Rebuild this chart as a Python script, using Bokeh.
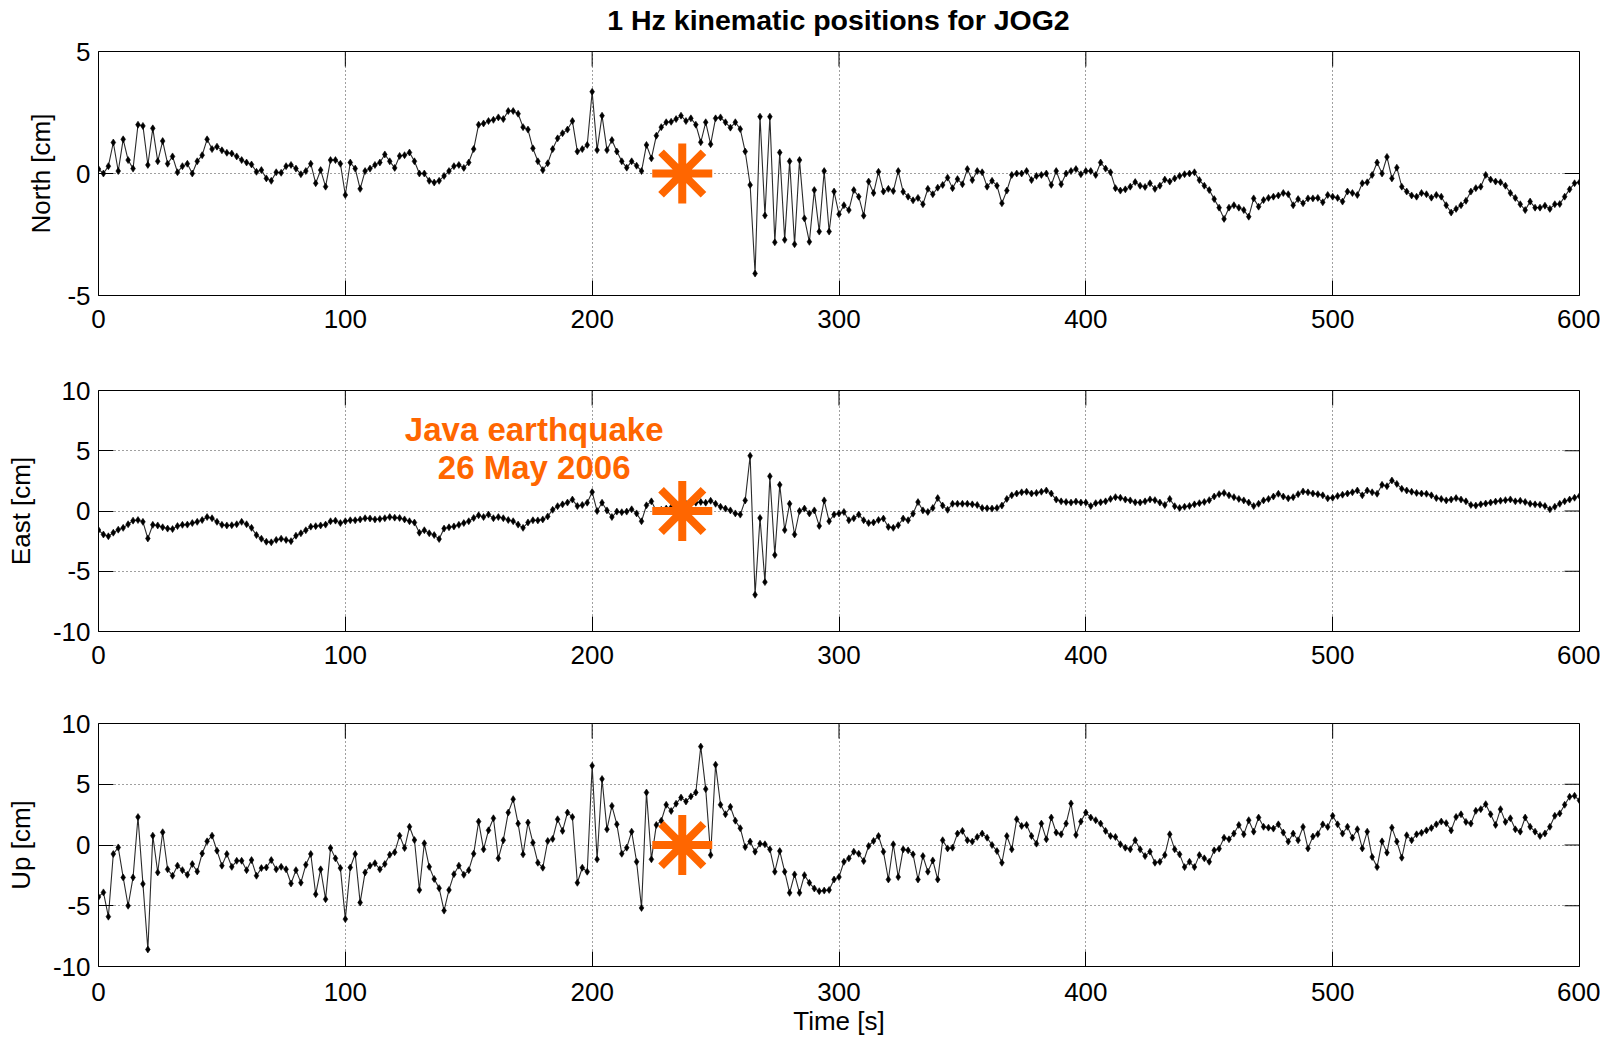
import numpy as np
from bokeh.plotting import figure
from bokeh.layouts import column
from bokeh.models import ColumnDataSource, Range1d, FixedTicker, Label, Div
from bokeh.embed import file_html
from bokeh.resources import INLINE

# ---------------- data (cm), sampled every 2 s from t = 0 to 600 s ----------------
time_s = list(range(0, 601, 2))

north_cm = [
    0.18, 0.0, 0.3, 1.27, 0.1, 1.4, 0.55, 0.2, 2.0, 1.95,
    0.35, 1.85, 0.5, 1.33, 0.4, 0.7, 0.05, 0.3, 0.4, 0.0,
    0.5, 0.75, 1.4, 1.0, 1.1, 0.95, 0.85, 0.82, 0.7, 0.55,
    0.45, 0.37, 0.07, 0.14, -0.2, -0.3, 0.05, 0.03, 0.3, 0.35,
    0.2, -0.03, 0.1, 0.4, -0.4, 0.14, -0.54, 0.55, 0.55, 0.4,
    -0.88, 0.45, 0.2, -0.63, 0.1, 0.2, 0.35, 0.45, 0.78, 0.5,
    0.23, 0.72, 0.75, 0.86, 0.5, 0.0, 0.0, -0.3, -0.37, -0.3,
    -0.1, 0.1, 0.3, 0.35, 0.23, 0.45, 1.0, 2.0, 2.05, 2.15,
    2.2, 2.3, 2.23, 2.56, 2.56, 2.45, 1.9, 1.8, 1.03, 0.5,
    0.14, 0.42, 1.0, 1.44, 1.65, 1.8, 2.15, 0.9, 1.0, 1.17,
    3.35, 0.96, 2.37, 0.96, 1.37, 0.9, 0.5, 0.24, 0.5, 0.32,
    0.1, 1.17, 0.62, 1.55, 1.9, 2.1, 2.12, 2.23, 2.37, 2.15,
    2.26, 2.0, 1.28, 2.1, 1.2, 2.26, 2.3, 2.1, 1.88, 2.1,
    1.82, 0.9, -0.47, -4.1, 2.33, -1.72, 2.33, -2.82, 0.86, -2.72,
    0.5, -2.9, 0.55, -1.84, -2.8, -0.68, -2.38, 0.1, -2.38, -0.74,
    -1.67, -1.3, -1.5, -0.68, -0.95, -1.73, -0.33, -0.8, 0.07, -0.74,
    -0.63, -0.72, 0.1, -0.75, -0.95, -1.1, -1.0, -1.26, -0.63, -0.85,
    -0.58, -0.47, -0.17, -0.6, -0.23, -0.44, 0.18, -0.27, 0.1, 0.05,
    -0.54, -0.3, -0.5, -1.22, -0.7, -0.06, 0.0, 0.0, 0.1, -0.27,
    -0.1, -0.06, 0.0, -0.47, 0.1, -0.44, 0.0, 0.1, 0.18, -0.03,
    0.1, 0.1, -0.06, 0.45, 0.2, 0.05, -0.6, -0.7, -0.65, -0.54,
    -0.35, -0.5, -0.55, -0.4, -0.63, -0.5, -0.25, -0.33, -0.2, -0.1,
    -0.03, 0.0, 0.05, -0.27, -0.5, -0.68, -1.05, -1.4, -1.86, -1.4,
    -1.3, -1.4, -1.5, -1.77, -1.02, -1.36, -1.09, -1.0, -0.95, -0.9,
    -0.8, -0.85, -1.3, -1.05, -1.22, -1.02, -1.02, -1.0, -1.18, -0.88,
    -0.95, -1.0, -1.15, -0.74, -0.8, -0.88, -0.4, -0.36, -0.06, 0.45,
    0.0, 0.68, -0.2, 0.24, -0.54, -0.74, -0.9, -0.95, -0.8, -0.85,
    -0.99, -0.88, -0.95, -1.3, -1.6, -1.45, -1.3, -1.12, -0.74, -0.6,
    -0.54, -0.06, -0.25, -0.33, -0.36, -0.5, -0.8, -1.0, -1.26, -1.5,
    -1.15, -1.4, -1.4, -1.32, -1.45, -1.26, -1.25, -0.95, -0.65, -0.4,
    -0.36,
]

east_cm = [
    -1.58, -1.95, -2.1, -1.8, -1.55, -1.4, -1.1, -0.8, -0.75, -0.9,
    -2.28, -1.15, -1.2, -1.35, -1.46, -1.5, -1.25, -1.15, -1.13, -1.0,
    -0.9, -0.75, -0.5, -0.6, -0.9, -1.15, -1.2, -1.18, -1.1, -0.9,
    -1.1, -1.4, -2.0, -2.3, -2.55, -2.6, -2.4, -2.3, -2.4, -2.5,
    -2.05, -1.85, -1.6, -1.3, -1.26, -1.2, -1.13, -0.85, -0.8, -1.0,
    -0.85, -0.77, -0.77, -0.7, -0.6, -0.62, -0.7, -0.66, -0.6, -0.5,
    -0.55, -0.58, -0.7, -0.85, -0.96, -1.8, -1.6, -1.85, -2.0, -2.33,
    -1.46, -1.35, -1.28, -1.15, -1.0, -0.85, -0.58, -0.36, -0.5, -0.3,
    -0.6, -0.5, -0.6, -0.75, -0.85, -1.13, -1.4, -0.95, -0.77, -0.78,
    -0.7, -0.45, 0.1, 0.4, 0.55, 0.7, 0.95, 0.41, 0.5, 0.69,
    1.57, 0.0, 0.69, 0.05, -0.5, -0.05, -0.1, -0.05, 0.14, -0.2,
    -0.85, 0.47, 0.8, 0.0, 0.1, 0.2, 0.3, 0.4, 0.5, 0.6,
    0.65, 0.69, 0.75, 0.69, 0.85, 0.6, 0.35, 0.2, 0.05, -0.2,
    -0.3, 0.88, 4.58, -6.95, -0.58, -5.9, 2.88, -3.65, 2.17, -1.58,
    0.6, -1.95, 0.0, 0.2, -0.2, 0.05, -1.24, 0.88, -0.85, -0.3,
    -0.2, -0.08, -0.77, -0.6, -0.3, -0.77, -1.0, -0.95, -0.75, -0.63,
    -1.32, -1.4, -1.18, -0.63, -0.77, -0.22, 0.74, 0.05, -0.08, 0.25,
    1.07, 0.45, 0.1, 0.6, 0.6, 0.6, 0.6, 0.55, 0.5, 0.25,
    0.22, 0.2, 0.25, 0.45, 1.0, 1.3, 1.45, 1.55, 1.6, 1.45,
    1.5, 1.6, 1.7, 1.45, 0.95, 0.8, 0.75, 0.7, 0.78, 0.7,
    0.7, 0.41, 0.65, 0.72, 0.8, 1.0, 1.15, 1.1, 0.95, 0.88,
    0.72, 0.7, 0.8, 0.96, 0.9, 0.7, 0.5, 1.0, 0.4, 0.25,
    0.35, 0.42, 0.55, 0.65, 0.75, 0.9, 1.2, 1.4, 1.5, 1.3,
    1.15, 1.0, 0.88, 0.7, 0.41, 0.6, 0.88, 1.0, 1.2, 1.43,
    1.2, 1.05, 1.15, 1.4, 1.62, 1.55, 1.45, 1.4, 1.3, 1.05,
    1.1, 1.25, 1.35, 1.45, 1.55, 1.7, 1.3, 1.7, 1.55, 1.43,
    2.17, 2.06, 2.53, 2.25, 1.84, 1.7, 1.6, 1.5, 1.45, 1.43,
    1.3, 1.07, 1.0, 0.88, 0.95, 1.07, 0.95, 0.8, 0.5, 0.45,
    0.55, 0.62, 0.7, 0.78, 0.85, 0.9, 0.96, 0.8, 0.85, 0.75,
    0.6, 0.55, 0.52, 0.41, 0.14, 0.35, 0.6, 0.8, 0.95, 1.1,
    1.24,
]

up_cm = [
    -4.27, -3.9, -5.9, -0.74, -0.2, -2.67, -5.0, -2.67, 2.3, -3.2,
    -8.6, 0.77, -2.26, 1.05, -2.0, -2.53, -1.7, -2.07, -2.45, -1.57,
    -2.18, -0.7, 0.3, 0.77, -0.47, -1.7, -0.74, -1.8, -1.3, -1.3,
    -2.07, -1.24, -2.53, -1.9, -1.85, -1.24, -2.0, -1.8, -2.0, -3.17,
    -2.07, -3.1, -1.63, -0.74, -4.05, -2.0, -4.46, -0.25, -1.1, -1.9,
    -6.1, -1.85, -0.74, -4.74, -2.26, -1.7, -1.5, -2.0, -1.57, -0.8,
    -0.6, 0.77, -0.25, 1.5, 0.41, -3.7, 0.14, -1.8, -2.8, -3.55,
    -5.4, -3.7, -2.4, -1.7, -2.45, -2.07, -0.72, 1.93, -0.36, 1.21,
    2.2, -1.1, 0.39, 2.67, 3.77, 1.76, -0.77, 1.85, 0.19, -1.46,
    -1.87, 0.33, 0.5, 2.12, 1.16, 2.67, 2.3, -3.11, -1.87, -2.2,
    6.53, -1.18, 5.43, 1.29, 3.22, 1.7, -0.72, -0.22, 1.1, -1.38,
    -5.18, 4.32, -1.18, 1.65, 2.0, 3.31, 2.8, 3.4, 3.9, 3.58,
    4.0, 4.32, 8.1, 4.6, -0.83, 6.61, 3.31, 2.53, 3.14, 2.0,
    1.38, -0.17, 0.28, -0.55, 0.11, 0.06, -0.36, -2.2, -0.5, -2.2,
    -3.94, -2.42, -3.94, -2.48, -3.11, -3.58, -3.8, -3.75, -3.7, -2.84,
    -2.64, -1.38, -1.1, -0.55, -0.72, -1.32, -0.08, 0.33, 0.74, -0.55,
    -2.84, 0.06, -2.64, -0.36, -0.44, -0.77, -2.84, -0.91, -2.2, -1.27,
    -2.84, 0.39, -0.28, -0.22, 0.94, 1.16, 0.39, 0.28, 0.66, 0.94,
    0.6, 0.0, -0.5, -1.46, 0.74, -0.36, 2.12, 1.57, 1.65, 0.74,
    0.11, 1.76, 0.47, 2.26, 1.02, 0.88, 1.76, 3.42, 0.83, 1.93,
    2.67, 2.26, 2.04, 1.76, 1.16, 0.74, 0.66, 0.06, -0.22, -0.36,
    0.39, -0.36, -0.91, -0.55, -1.46, -1.38, -0.83, 0.88, -0.36, -0.77,
    -1.82, -1.38, -1.82, -0.83, -1.1, -1.38, -0.44, -0.3, 0.6, 0.47,
    0.94, 1.65, 0.88, 2.04, 1.1, 2.26, 1.5, 1.43, 1.35, 1.7,
    1.02, 0.28, 0.94, 0.39, 1.49, -0.28, 0.7, 0.9, 1.7, 1.49,
    2.4, 1.7, 0.94, 1.5, 0.6, 1.3, -0.28, 1.1, -0.99, -1.82,
    0.3, -0.63, 1.43, 0.28, -1.05, 0.8, 0.39, 0.88, 1.0, 1.2,
    1.4, 1.7, 1.93, 1.8, 1.2, 2.31, 2.53, 1.9, 1.76, 2.81,
    2.95, 3.36, 2.53, 1.65, 2.95, 1.9, 2.2, 1.29, 1.1, 2.26,
    1.5, 1.1, 0.74, 0.95, 1.5, 2.4, 2.6, 3.31, 3.97, 4.05,
    3.66,
]

x_ticks = [0, 100, 200, 300, 400, 500, 600]
north_ticks = [-5, 0, 5]
east_ticks = [-10, -5, 0, 5, 10]
up_ticks = [-10, -5, 0, 5, 10]

title_text = "1 Hz kinematic positions for JOG2"
event_time_s = 236.5          # earthquake marker (orange asterisk) at t, value 0
event_value = 0.0
event_label_lines = ["Java earthquake", "26 May 2006"]
event_label_t = 176.5
event_label_y = [6.8, 3.6]    # in East-panel units

assert len(time_s) == len(north_cm) == len(east_cm) == len(up_cm) == 301

FONT = "Liberation Sans"
ORANGE = "#FF6600"
FIG_W, B_LEFT, B_RIGHT = 1600, 98, 21
FRAME_W = FIG_W - B_LEFT - B_RIGHT
TICK_LEN = 15   # px, inward
TITLE_H = 35


def style_axis(ax, ticks, standoff):
    ax.ticker = FixedTicker(ticks=ticks)
    ax.major_label_overrides = {t: str(t) for t in ticks}   # plain hyphen minus
    ax.axis_line_color = None
    ax.major_tick_in = TICK_LEN
    ax.major_tick_out = 0
    ax.major_tick_line_color = "black"
    ax.major_tick_line_width = 1
    ax.minor_tick_line_color = None
    ax.major_label_text_font = FONT
    ax.major_label_text_color = "black"
    ax.major_label_text_font_size = "26px"
    ax.major_label_standoff = standoff
    ax.axis_label_text_font = FONT
    ax.axis_label_text_font_size = "26px"
    ax.axis_label_text_font_style = "normal"
    ax.axis_label_text_color = "black"


def make_panel(values, ylabel, yrange, yticks, height, btop, bbottom,
               ylabel_standoff, x_standoff=14, xlabel=None):
    frame_h = height - btop - bbottom
    x0, x1 = 0, 600
    y0, y1 = yrange
    p = figure(width=FIG_W, height=height,
               x_range=Range1d(x0, x1), y_range=Range1d(y0, y1),
               output_backend="svg", toolbar_location=None,
               min_border_left=B_LEFT, min_border_right=B_RIGHT,
               min_border_top=btop, min_border_bottom=bbottom)
    p.background_fill_color = "white"
    p.border_fill_color = "white"
    p.border_fill_alpha = 0.0
    p.outline_line_color = "black"
    p.outline_line_width = 1

    style_axis(p.xaxis[0], x_ticks, standoff=x_standoff)
    style_axis(p.yaxis[0], yticks, standoff=8)
    p.yaxis[0].axis_label = ylabel
    p.yaxis[0].axis_label_standoff = ylabel_standoff
    if xlabel:
        p.xaxis[0].axis_label = xlabel
        p.xaxis[0].axis_label_standoff = 2

    for g in (p.xgrid[0], p.ygrid[0]):
        g.grid_line_color = "black"
        g.grid_line_alpha = 0.75
        g.grid_line_dash = "1 3"
        g.grid_line_width = 1

    # mirrored inward ticks on top and right edges (box style)
    dy = TICK_LEN * (y1 - y0) / frame_h
    dx = TICK_LEN * (x1 - x0) / FRAME_W
    p.segment(x0=x_ticks, y0=[y1] * len(x_ticks), x1=x_ticks,
              y1=[y1 - dy] * len(x_ticks), line_color="black", line_width=1)
    p.segment(x0=[x1 - dx] * len(yticks), y0=yticks, x1=[x1] * len(yticks),
              y1=yticks, line_color="black", line_width=1)

    src = ColumnDataSource(data=dict(t=time_s, v=values))
    p.line("t", "v", source=src, line_color="#2a2a2a", line_width=1.1)
    p.scatter("t", "v", source=src, marker="diamond", size=7,
              fill_color="black", line_color="black", line_width=0.6)

    p.scatter(x=[event_time_s], y=[event_value], marker="asterisk", size=60,
              line_color=ORANGE, line_width=8)
    return p


title_div = Div(
    text=title_text, width=FRAME_W, height=TITLE_H,
    margin=(0, 0, 0, B_LEFT),
    styles={"text-align": "center", "font-family": FONT,
            "font-size": "28.5px", "font-weight": "bold", "color": "black",
            "line-height": "41px", "white-space": "nowrap",
            "overflow": "visible"})

p1 = make_panel(north_cm, "North [cm]", (-5, 5), north_ticks, 340 - TITLE_H,
                51 - TITLE_H, 45, ylabel_standoff=8)
p2 = make_panel(east_cm, "East [cm]", (-10, 10), east_ticks, 336, 50, 45,
                ylabel_standoff=14)
p3 = make_panel(up_cm, "Up [cm]", (-10, 10), up_ticks, 362, 47, 72,
                ylabel_standoff=14, x_standoff=16, xlabel="Time [s]")

for txt, yy in zip(event_label_lines, event_label_y):
    p2.add_layout(Label(x=event_label_t, y=yy, text=txt,
                        text_align="center", text_baseline="middle",
                        text_font=FONT, text_font_size="33px",
                        text_font_style="bold", text_color=ORANGE))

layout = column(title_div, p1, p2, p3, spacing=0)
open("out.html", "w").write(file_html(layout, INLINE))
